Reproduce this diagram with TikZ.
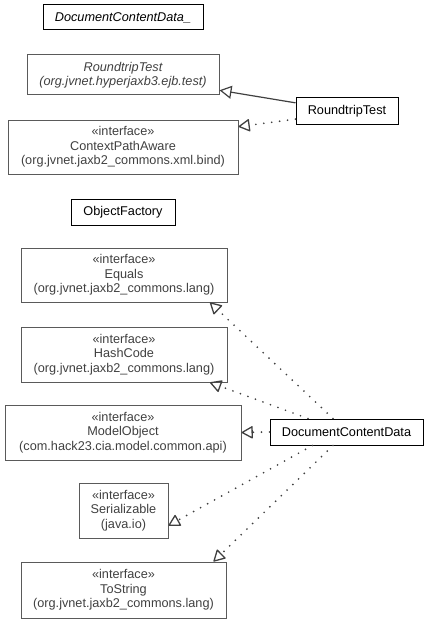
\documentclass[tikz,border=0pt]{standalone}
\usepackage{fontspec}
\setmainfont{Liberation Sans}
\usetikzlibrary{arrows.meta}
\definecolor{boxgray}{HTML}{5A5A5A}
\definecolor{textgray}{HTML}{404040}

\begin{document}
\begin{tikzpicture}[x=1pt,y=-1pt,
  cls/.style={draw=black,line width=1pt,fill=white,inner sep=0pt,font=\fontsize{12.7}{14.5}\selectfont},
  iface/.style={draw=boxgray,line width=1pt,text=textgray,align=center,inner sep=0pt,font=\fontsize{12.7}{14.5}\selectfont},
  realize/.style={draw=textgray,line width=1.9pt,line cap=round,dash pattern=on 0pt off 8pt,-{Triangle[open,length=12pt,width=13pt,line width=1.3pt,round=false]}},
  extend/.style={draw=textgray,line width=1.2pt,-{Triangle[open,length=12pt,width=13pt]}}]
        \useasboundingbox (0,0) rectangle (429,623);
        \node[cls,minimum width=160pt,minimum height=25pt,font=\fontsize{12.7}{14.5}\selectfont\itshape] (dcdU) at (123,17.5) {DocumentContentData\_};
        \node[iface,minimum width=192pt,minimum height=40pt,font=\fontsize{12.7}{14.5}\selectfont\itshape] (rtTestBase) at (123,75) {RoundtripTest\\(org.jvnet.hyperjaxb3.ejb.test)};
        \node[cls,minimum width=102pt,minimum height=26pt] (rtTest) at (347,111) {RoundtripTest};
        \node[iface,minimum width=230pt,minimum height=54pt] (ctxPath) at (123,147) {«interface»\\ContextPathAware\\(org.jvnet.jaxb2\_commons.xml.bind)};
        \node[cls,minimum width=104pt,minimum height=26pt] (objFactory) at (123,212) {ObjectFactory};
        \node[iface,minimum width=206pt,minimum height=54pt] (equals) at (124,275) {«interface»\\Equals\\(org.jvnet.jaxb2\_commons.lang)};
        \node[iface,minimum width=206pt,minimum height=55pt] (hashCode) at (124,354.5) {«interface»\\HashCode\\(org.jvnet.jaxb2\_commons.lang)};
        \node[iface,minimum width=236pt,minimum height=55pt] (modelObj) at (123,432.5) {«interface»\\ModelObject\\(com.hack23.cia.model.common.api)};
        \node[cls,minimum width=153pt,minimum height=26pt] (dcd) at (346.5,432) {DocumentContentData};
        \node[iface,minimum width=89pt,minimum height=55pt] (serial) at (123.5,510.5) {«interface»\\Serializable\\(java.io)};
        \node[iface,minimum width=205pt,minimum height=56pt] (toStr) at (123.5,590) {«interface»\\ToString\\(org.jvnet.jaxb2\_commons.lang)};

        \draw[extend] (rtTest.171) -- (rtTestBase.351);
        \draw[realize] (rtTest.189) -- (ctxPath.10);
        \draw[realize] ([xshift=-13.5pt]dcd.north) -- ([xshift=86pt]equals.south);
        \draw[realize] ([xshift=-38.5pt]dcd.north) -- ([xshift=86pt]hashCode.south);
        \draw[realize] (dcd.west) -- (modelObj.east);
        \draw[realize] ([xshift=-34pt]dcd.south) -- ([yshift=-15pt]serial.east);
        \draw[realize] ([xshift=-13.5pt]dcd.south) -- ([xshift=90pt]toStr.north);
    \end{tikzpicture}
\end{document}
